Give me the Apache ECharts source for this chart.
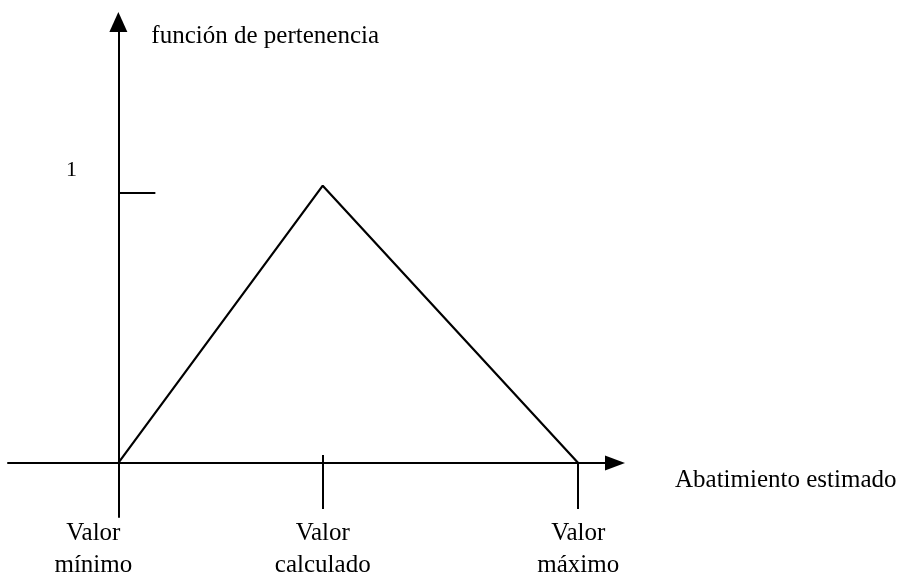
<!DOCTYPE html>
<html>
<head>
  <meta charset="UTF-8">
  <script src="https://cdn.jsdelivr.net/npm/echarts@6/dist/echarts.min.js"></script>
  <style>
    html, body { margin: 0; padding: 0; background: #fff; }
  </style>
</head>
<body>
  <div id="mychart" style="width:909px;height:575px;"></div>

  <script type="text/javascript">
    // valores del triángulo (función de pertenencia)
    var puntosX = [0, 1, 2.25];
    var pertenencia = [0, 1.025, 0];
    var etiquetasX = ['Valor\nmínimo', 'Valor\ncalculado', 'Valor\nmáximo'];
    var marcasY = [1];
    var etiquetasY = ['1'];

    var serif = '"Liberation Serif", "Times New Roman", serif';

    var myChart = echarts.init(document.getElementById('mychart'));

    myChart.setOption({
      animation: false,
      grid: { left: 8, right: 294, top: 22, bottom: 58, outerBoundsMode: 'none', containLabel: false },
      xAxis: [
        {
          type: 'value',
          min: -0.54,
          max: 2.43,
          name: 'Abatimiento estimado',
          nameLocation: 'end',
          nameGap: 60,
          nameTextStyle: {
            color: '#000', fontFamily: serif, fontSize: 25,
            align: 'left', verticalAlign: 'top', lineHeight: 36
          },
          axisLine: {
            onZero: true,
            symbol: ['none', 'triangle'],
            symbolSize: [15, 20],
            lineStyle: { color: '#000', width: 2 }
          },
          axisTick: {
            show: true,
            customValues: puntosX,
            length: 46,
            lineStyle: { color: '#000', width: 2 }
          },
          axisLabel: {
            customValues: puntosX,
            margin: 0,
            formatter: function (v) {
              var i = puntosX.indexOf(v);
              if (i === 0) return '{izq|' + etiquetasX[i].replace('\n', '}\n{izq|') + '}';
              return etiquetasX[i];
            },
            color: '#000', fontFamily: serif, fontSize: 25, lineHeight: 32,
            rich: {
              izq: { fontFamily: serif, fontSize: 25, lineHeight: 32, color: '#000', padding: [0, 50, 0, 0] }
            }
          },
          splitLine: { show: false }
        },
        {
          type: 'value',
          min: -0.54,
          max: 2.43,
          position: 'bottom',
          offset: -54,
          axisLine: { show: false, onZero: false },
          axisTick: {
            show: true,
            inside: true,
            customValues: [puntosX[1]],
            length: 8,
            lineStyle: { color: '#000', width: 2 }
          },
          axisLabel: { show: false },
          splitLine: { show: false }
        }
      ],
      yAxis: {
        type: 'value',
        min: -0.2,
        max: 1.63,
        name: 'función de pertenencia',
        nameLocation: 'end',
        nameGap: -14,
        nameTextStyle: {
          color: '#000', fontFamily: serif, fontSize: 25,
          align: 'left', verticalAlign: 'middle', padding: [0, 0, 0, 33]
        },
        axisLine: {
          onZero: true,
          symbol: ['none', 'triangle'],
          symbolSize: [18, 20],
          lineStyle: { color: '#000', width: 2 }
        },
        axisTick: {
          show: true,
          inside: true,
          customValues: marcasY,
          length: 37,
          lineStyle: { color: '#000', width: 2 }
        },
        axisLabel: {
          customValues: marcasY,
          margin: -69,
          verticalAlign: 'bottom',
          lineHeight: 44,
          formatter: function (v) { return etiquetasY[marcasY.indexOf(v)]; },
          color: '#000', fontFamily: serif, fontSize: 22
        },
        splitLine: { show: false }
      },
      series: [{
        type: 'line',
        data: puntosX.map(function (x, i) { return [x, pertenencia[i]]; }),
        symbol: 'none',
        lineStyle: { color: '#000', width: 2.2 },
        silent: true
      }]
    });
  </script>
</body>
</html>
